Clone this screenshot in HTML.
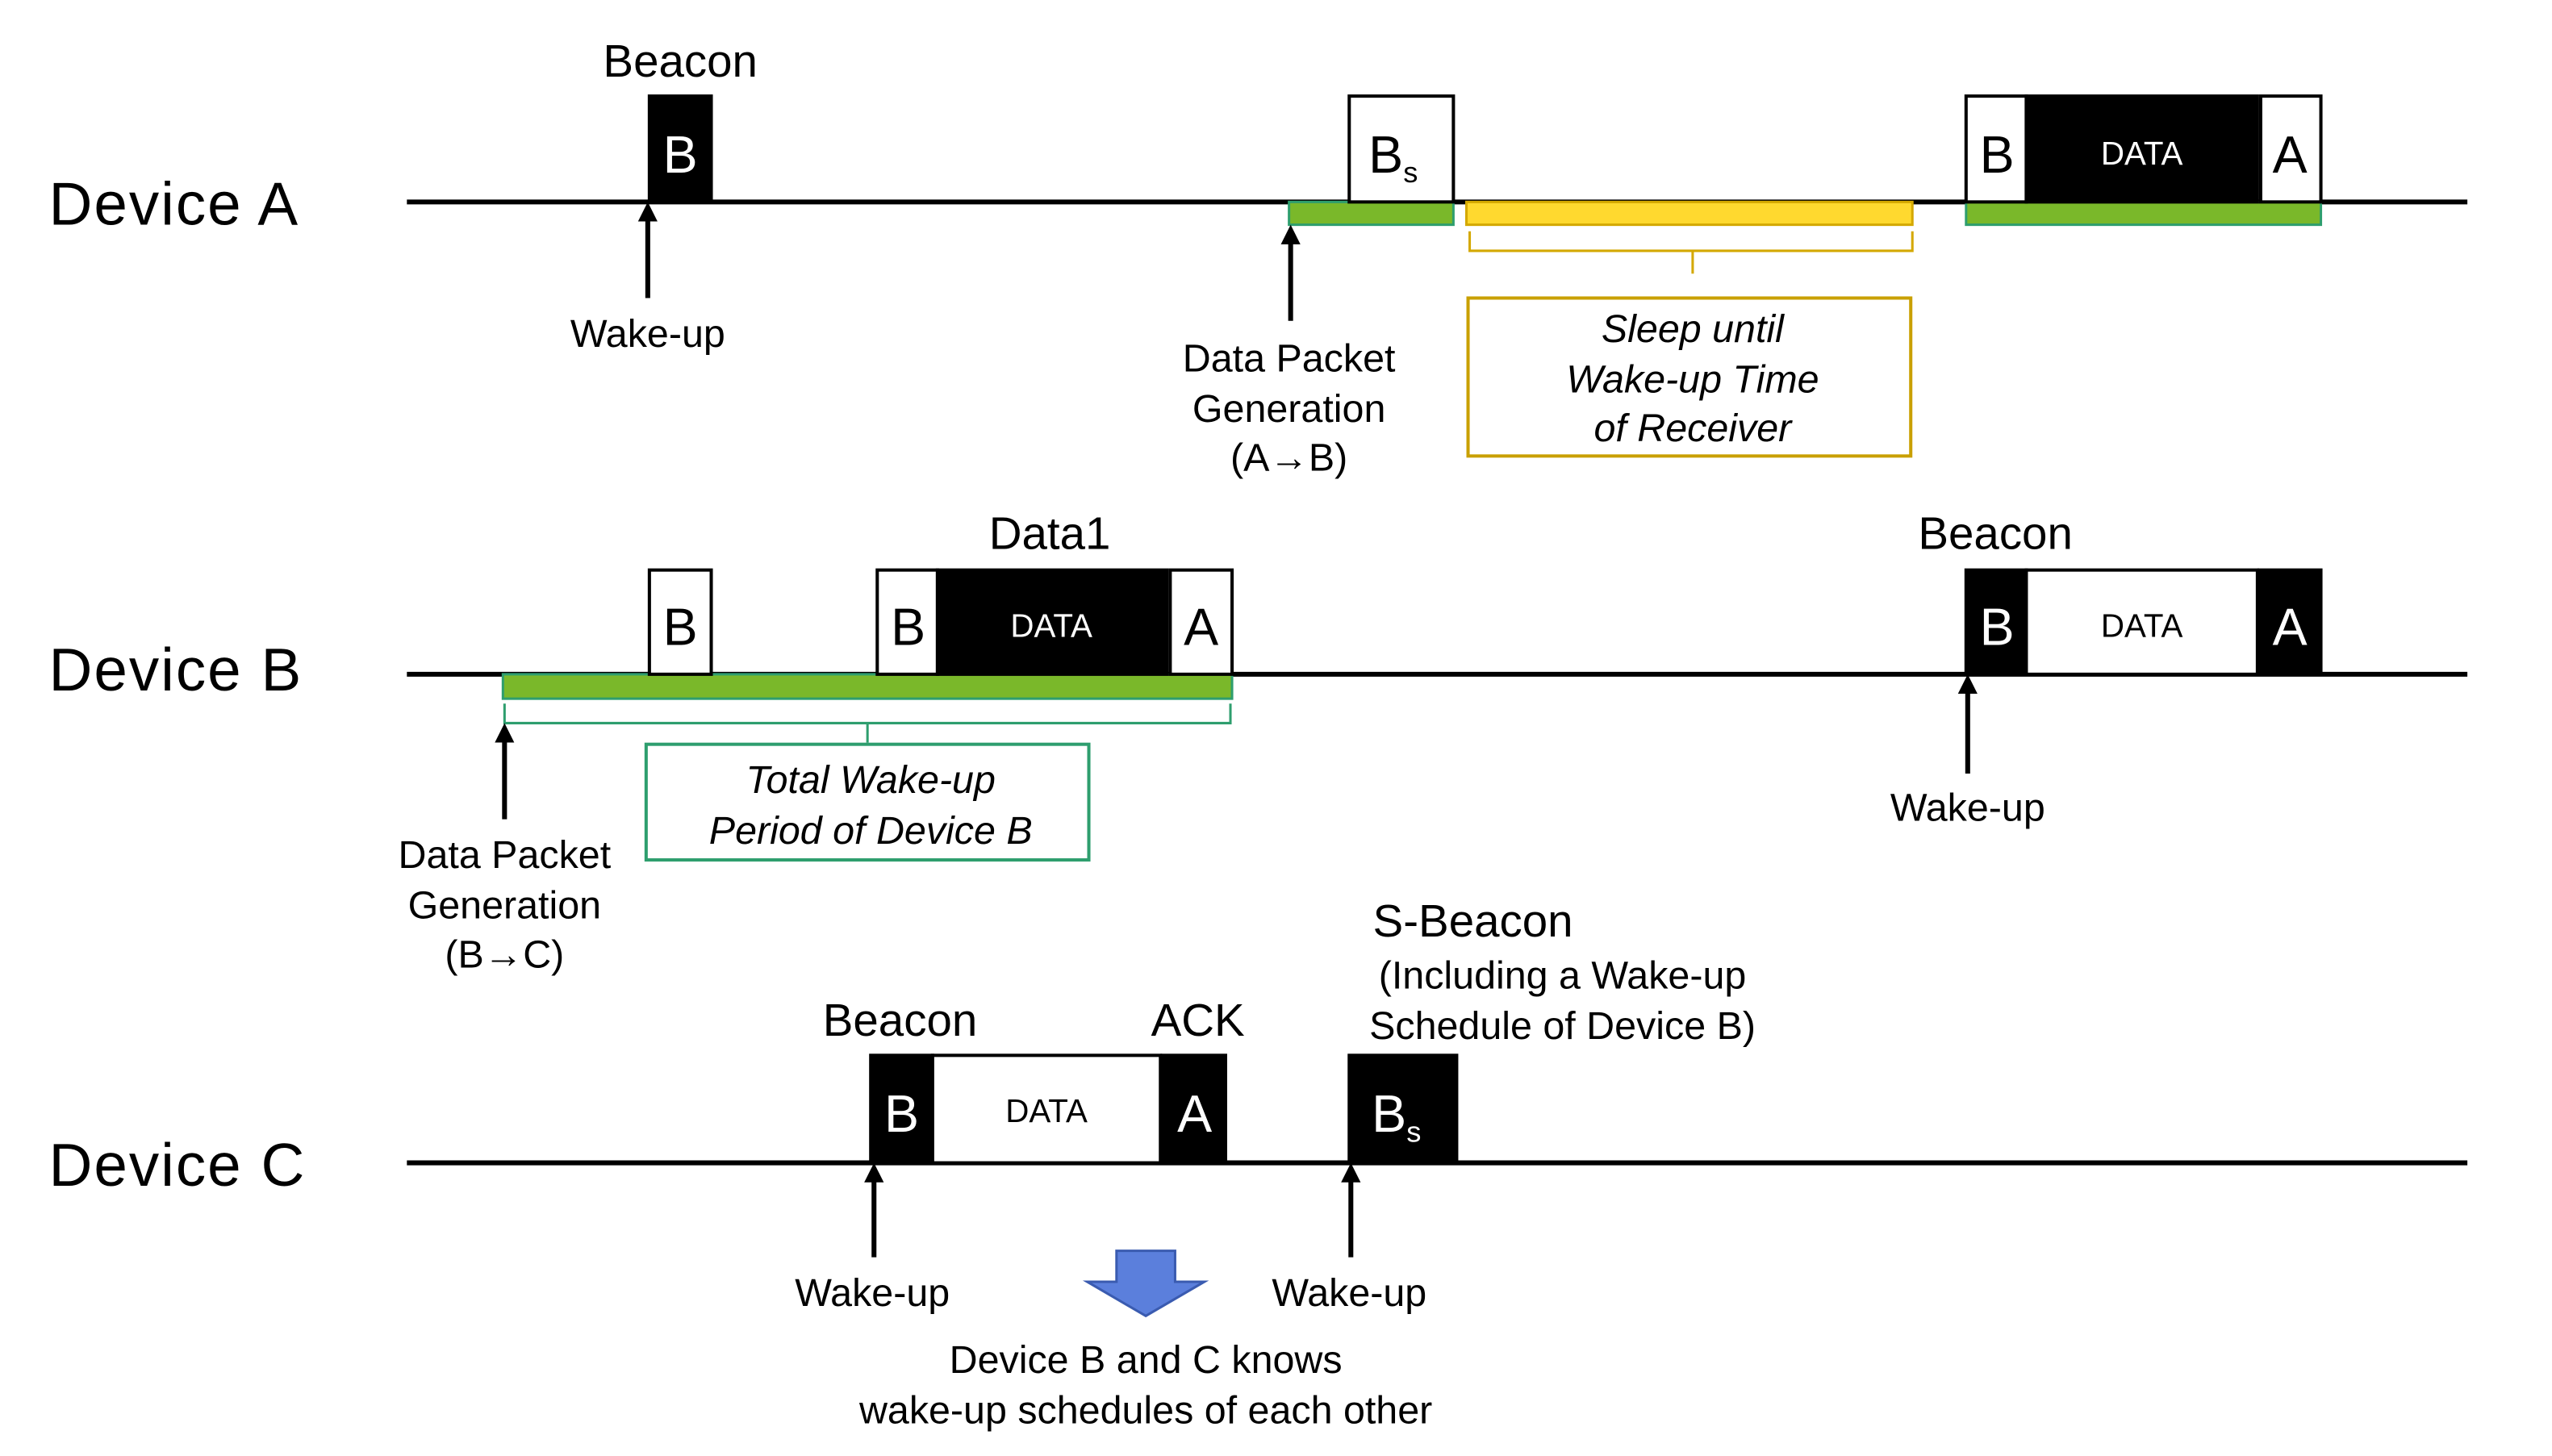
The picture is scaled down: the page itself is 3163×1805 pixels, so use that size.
<!DOCTYPE html>
<html><head><meta charset="utf-8"><style>html,body{margin:0;padding:0;background:#fff}svg{display:block}text{font-family:"Liberation Sans",sans-serif;fill:#000}</style></head><body>
<svg width="3163" height="1805" viewBox="0 0 1568 894" preserveAspectRatio="none" xmlns="http://www.w3.org/2000/svg">
<defs><marker id="ah" viewBox="0 0 10 10" refX="5" refY="5" markerWidth="4" markerHeight="4" orient="auto"><path d="M0,0 L10,5 L0,10 z" fill="#000"/></marker></defs>
<g font-size="37" letter-spacing="1"><text x="30" y="138">Device A</text><text x="30" y="424">Device B</text><text x="30" y="728">Device C</text></g>
<g stroke="#000" stroke-width="3"><line x1="250" y1="124" x2="1516" y2="124"/><line x1="250" y1="414" x2="1516" y2="414"/><line x1="250" y1="714" x2="1516" y2="714"/></g>
<rect x="792" y="124" width="101" height="14" fill="#7ab82a" stroke="#2e9e6e" stroke-width="1.5"/>
<rect x="901" y="124" width="274" height="14" fill="#ffd92f" stroke="#d4a800" stroke-width="1.5"/>
<rect x="1208" y="124" width="218" height="14" fill="#7ab82a" stroke="#2e9e6e" stroke-width="1.5"/>
<rect x="309" y="414" width="448" height="15" fill="#7ab82a" stroke="#2e9e6e" stroke-width="1.5"/>
<path d="M903,142 V154 H1040 V168 M1040,154 H1175 V142" fill="none" stroke="#d4a800" stroke-width="1.5"/>
<path d="M310,432 V444 H533 V456 M533,444 H756 V432" fill="none" stroke="#2e9e6e" stroke-width="1.5"/>
<g stroke="#000" stroke-width="2">
<rect x="399" y="59" width="38" height="65" fill="#000"/>
<rect x="829" y="59" width="64" height="65" fill="#fff"/>
<rect x="1208" y="59" width="37" height="65" fill="#fff"/>
<rect x="1245" y="59" width="142" height="65" fill="#000"/>
<rect x="1389" y="59" width="37" height="65" fill="#fff"/>
<rect x="399" y="350" width="38" height="64" fill="#fff"/>
<rect x="539" y="350" width="37" height="64" fill="#fff"/>
<rect x="576" y="350" width="141" height="64" fill="#000"/>
<rect x="719" y="350" width="38" height="64" fill="#fff"/>
<rect x="1208" y="350" width="37" height="64" fill="#000"/>
<rect x="1245" y="350" width="142" height="64" fill="#fff"/>
<rect x="1388" y="350" width="38" height="64" fill="#000"/>
<rect x="535" y="648" width="38" height="66" fill="#000"/>
<rect x="573" y="648" width="140" height="66" fill="#fff"/>
<rect x="714" y="648" width="39" height="66" fill="#000"/>
<rect x="829" y="648" width="66" height="66" fill="#000"/>
</g>
<g font-size="32" text-anchor="middle">
<text x="418" y="106" style="fill:#fff">B</text>
<text x="856" y="106">B<tspan font-size="18" dy="6">s</tspan></text>
<text x="1227" y="106">B</text><text x="1407" y="106">A</text>
<text x="418" y="396">B</text><text x="558" y="396">B</text><text x="738" y="396">A</text>
<text x="1227" y="396" style="fill:#fff">B</text><text x="1407" y="396" style="fill:#fff">A</text>
<text x="554" y="695" style="fill:#fff">B</text><text x="734" y="695" style="fill:#fff">A</text>
<text x="858" y="695" style="fill:#fff">B<tspan font-size="18" dy="6" style="fill:#fff">s</tspan></text>
</g>
<g font-size="20" text-anchor="middle">
<text x="1316" y="101" style="fill:#fff">DATA</text>
<text x="646" y="391" style="fill:#fff">DATA</text>
<text x="1316" y="391">DATA</text>
<text x="643" y="689">DATA</text>
</g>
<g stroke="#000" stroke-width="3" marker-end="url(#ah)">
<line x1="398" y1="183" x2="398" y2="130"/>
<line x1="793" y1="197" x2="793" y2="144"/>
<line x1="310" y1="503" x2="310" y2="450"/>
<line x1="1209" y1="475" x2="1209" y2="420"/>
<line x1="537" y1="772" x2="537" y2="720"/>
<line x1="830" y1="772" x2="830" y2="720"/>
</g>
<rect x="902" y="183" width="272" height="97" fill="none" stroke="#c9a000" stroke-width="2"/>
<rect x="397" y="457" width="272" height="71" fill="none" stroke="#2e9e6e" stroke-width="2"/>
<path d="M686,768 H722 V787 H740 L704,808 L668,787 H686 Z" fill="#5b7fdc" stroke="#3a5bb0" stroke-width="1.5"/>
<g font-size="28" text-anchor="middle">
<text x="418" y="47">Beacon</text><text x="645" y="337">Data1</text><text x="1226" y="337">Beacon</text>
<text x="553" y="636">Beacon</text><text x="736" y="636">ACK</text><text x="905" y="575">S-Beacon</text>
</g>
<g font-size="24" text-anchor="middle">
<text x="398" y="213">Wake-up</text>
<text x="792" y="228">Data Packet</text><text x="792" y="259">Generation</text><text x="792" y="289">(A→B)</text>
<text x="310" y="533">Data Packet</text><text x="310" y="564">Generation</text><text x="310" y="594">(B→C)</text>
<text x="1209" y="504">Wake-up</text>
<text x="960" y="607">(Including a Wake-up</text><text x="960" y="638">Schedule of Device B)</text>
<text x="536" y="802">Wake-up</text><text x="829" y="802">Wake-up</text>
<text x="704" y="843">Device B and C knows</text><text x="704" y="874">wake-up schedules of each other</text>
</g>
<g font-size="24" text-anchor="middle" font-style="italic">
<text x="1040" y="210">Sleep until</text><text x="1040" y="241">Wake-up Time</text><text x="1040" y="271">of Receiver</text>
<text x="535" y="487">Total Wake-up</text><text x="535" y="518">Period of Device B</text>
</g>
</svg>
</body></html>
